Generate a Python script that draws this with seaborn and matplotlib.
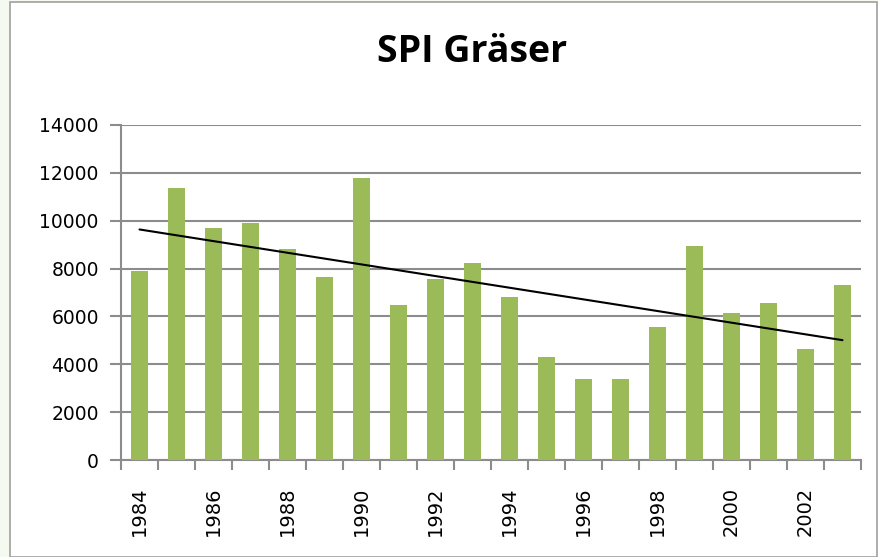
import numpy as np
import pandas as pd
import matplotlib
matplotlib.use("Agg")
import matplotlib.pyplot as plt
import seaborn as sns
from matplotlib.patches import Rectangle

years = list(range(1984, 2004))
values = [7900, 11350, 9680, 9910, 8830, 7660, 11770, 6480, 7560, 8240,
          6810, 4300, 3390, 3390, 5560, 8930, 6140, 6560, 4640, 7330]
ytick_values = [0, 2000, 4000, 6000, 8000, 10000, 12000, 14000]

BAR_COLOR = "#9BBB59"
GRID_COLOR = "#8C8C8C"

df = pd.DataFrame({"year": [str(y) for y in years], "value": values})

sns.set_style("white")
plt.rcParams["font.family"] = ["DejaVu Sans"]

fig = plt.figure(figsize=(8.79, 5.57), dpi=100)
fig.patch.set_facecolor("#F4FAF0")
# chart area frame like the spreadsheet chart
frame = Rectangle((10 / 879, 0), 867 / 879, 555 / 557, transform=fig.transFigure,
                  facecolor="white", edgecolor="#A0A0A0", linewidth=1.2, zorder=-10)
fig.patches.append(frame)

ax = fig.add_axes([121 / 879, 1 - 460 / 557, 740 / 879, 335 / 557])
ax.set_facecolor("none")

sns.barplot(data=df, x="year", y="value", color=BAR_COLOR, width=0.44,
            saturation=1, linewidth=0, ax=ax, zorder=3)

# linear trendline through the data
pos = np.arange(len(values))
k, d = np.polyfit(pos, values, 1)
ax.plot(pos, k * pos + d, color="black", linewidth=1.5, zorder=4)

ax.set_xlim(-0.5, len(values) - 0.5)
ax.set_ylim(0, 14000)
ax.set_yticks(ytick_values)
ax.set_yticklabels([str(v) for v in ytick_values], fontsize=13.5, color="black")
ax.yaxis.grid(True, color=GRID_COLOR, linewidth=1.5, zorder=0)
ax.set_axisbelow(True)

ax.set_xticks(pos[::2])
ax.set_xticklabels(df["year"][::2], rotation=90, fontsize=14, color="black")
ax.set_xticks(np.arange(-0.5, len(values)), minor=True)
ax.tick_params(axis="x", which="major", length=0, pad=19)
ax.tick_params(axis="x", which="minor", length=7, width=1.5, color=GRID_COLOR, direction="out")
ax.tick_params(axis="y", which="major", length=8, width=1.5, color=GRID_COLOR, direction="out", pad=8)
ax.xaxis.set_ticks_position("bottom")
ax.yaxis.set_ticks_position("left")

for side in ["top", "right"]:
    ax.spines[side].set_visible(False)
for side in ["left", "bottom"]:
    ax.spines[side].set_color(GRID_COLOR)
    ax.spines[side].set_linewidth(1.5)

ax.set_xlabel("")
ax.set_ylabel("")

fig.text(472 / 879, 1 - 52 / 557, "SPI Gräser", ha="center", va="center",
         fontsize=27, fontweight="bold", color="black",
         family=["Open Sans", "DejaVu Sans"])

fig.savefig("out.png", dpi=100)
